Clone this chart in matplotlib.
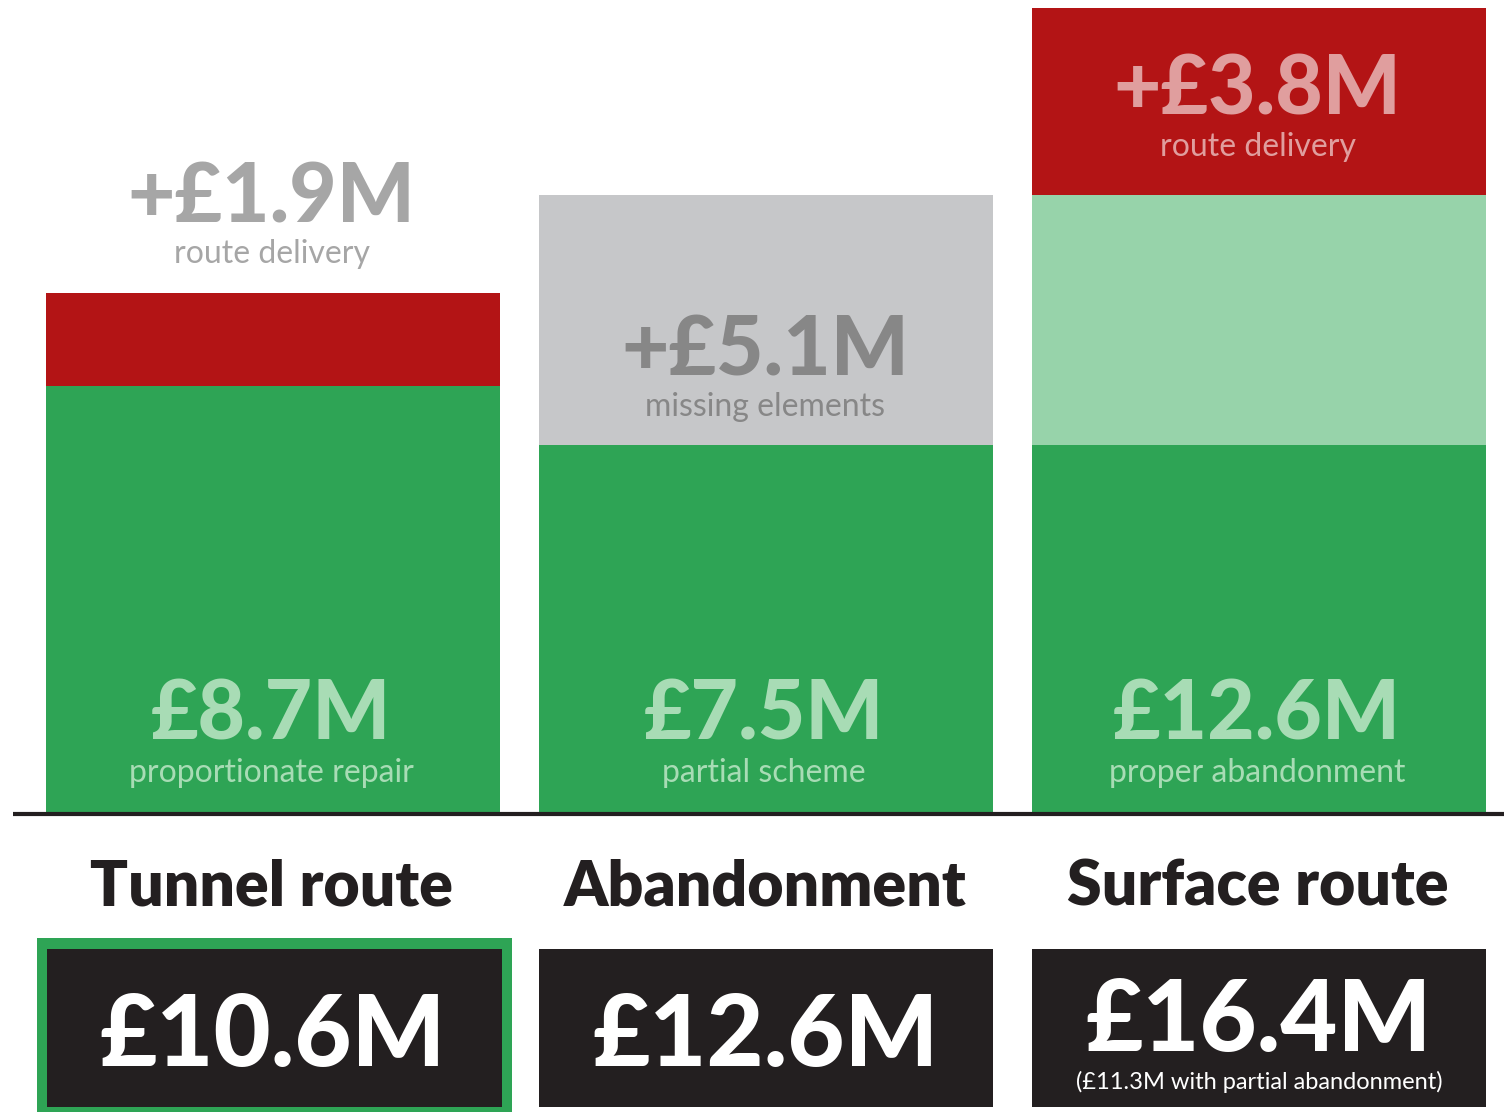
import matplotlib
matplotlib.use('Agg')

import matplotlib.pyplot as plt
from matplotlib.patches import Rectangle

plt.rcParams['font.family'] = ['Lato', 'DejaVu Sans']

# data, £M
categories = ["Tunnel route", "Abandonment", "Surface route"]
core = [8.7, 7.5, 7.5]
core_labels = ["£8.7M", "£7.5M", "£12.6M"]
core_notes = ["proportionate repair", "partial scheme", "proper abandonment"]
extra_green = [0, 0, 5.1]
missing = [0, 5.1, 0]
delivery = [1.9, 0, 3.8]
totals = ["£10.6M", "£12.6M", "£16.4M"]

GREEN = "#2ea455"
LIGHT_GREEN = "#97d3aa"
RED = "#b31415"
GREY = "#c6c7c9"
DARK = "#231f20"

PX = 49.0          # pixels per £M
BASE = 812         # baseline, pixels from top


def py(px):
    # pixel row -> data y
    return (BASE - px) / PX


fig = plt.figure(figsize=(15.04, 11.12), dpi=100)
ax = fig.add_axes([0, 0, 1, 1])
ax.set_xlim(0, 1504)
ax.set_ylim(py(1112), py(0))
ax.axis('off')

xs = [273, 766, 1259]
w = 454

bottom = [0, 0, 0]
for seg, col in [(core, GREEN), (extra_green, LIGHT_GREEN), (missing, GREY), (delivery, RED)]:
    ax.bar(xs, seg, width=w, bottom=bottom, color=col, linewidth=0)
    bottom = [b + s for b, s in zip(bottom, seg)]

ax.plot([13, 1504], [py(814), py(814)], color=DARK, lw=3, solid_capstyle='butt')

big = dict(ha='center', va='baseline', fontsize=59, fontweight='black')
small = dict(ha='center', va='baseline', fontsize=23)

# core labels
for x, lab, note in zip(xs, core_labels, core_notes):
    ax.text(x - 2, py(740), lab, color="#a8dcb5", **big)
    ax.text(x - 2, py(782), note, color="#a8dcb5", **small)

# add-on labels
ax.text(271, py(222), "+£1.9M", color="#a6a6a6", **big)
ax.text(272, py(263), "route delivery", color="#a6a6a6", **small)
ax.text(765, py(375), "+£5.1M", color="#878787", **big)
ax.text(765, py(416), "missing elements", color="#878787", **small)
ax.text(1257, py(114), "+£3.8M", color="#e09e9e", **big)
ax.text(1258, py(156), "route delivery", color="#e09e9e", **small)

# category names
for x, c in zip(xs, categories):
    ax.text(x - 1, py(905), c, ha='center', va='baseline', fontsize=45,
            fontweight='heavy', color=DARK)

# total boxes (first one highlighted with a green frame)
ax.add_patch(Rectangle((37, py(1112)), 475, py(938) - py(1112), color=GREEN, lw=0))
ax.add_patch(Rectangle((47, py(1107)), 455, py(949) - py(1107), color=DARK, lw=0))
for x in xs[1:]:
    ax.add_patch(Rectangle((x - w / 2, py(1107)), w, py(949) - py(1107),
                           color=DARK, lw=0))

ax.text(xs[0], py(1066), totals[0], color='white', ha='center', va='baseline',
        fontsize=71, fontweight='black')
ax.text(xs[1], py(1066), totals[1], color='white', ha='center', va='baseline',
        fontsize=71, fontweight='black')
ax.text(xs[2], py(1051), totals[2], color='white', ha='center', va='baseline',
        fontsize=71, fontweight='black')
ax.text(xs[2], py(1089), "(£11.3M with partial abandonment)", color='white',
        ha='center', va='baseline', fontsize=17)

fig.savefig("out.png", dpi=100)
